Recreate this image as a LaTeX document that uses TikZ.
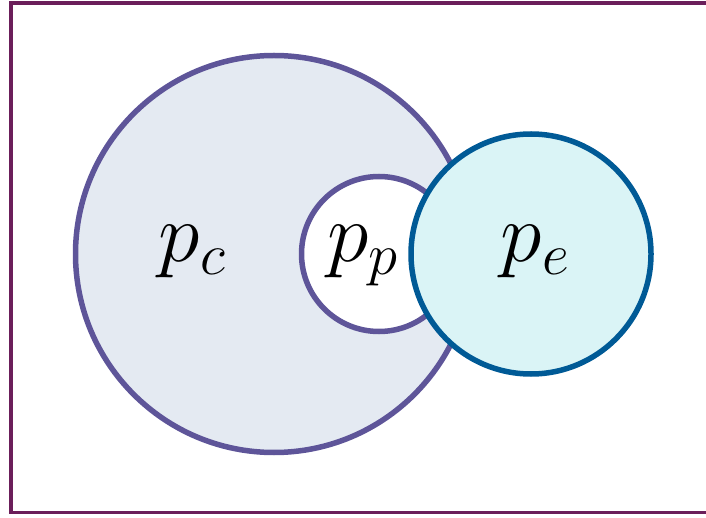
\RequirePackage{fix-cm}
\documentclass[tikz,border=0pt]{standalone}
\definecolor{framec}{RGB}{107,30,90}
\definecolor{pcstroke}{RGB}{94,85,153}
\definecolor{pcfill}{RGB}{228,234,242}
\definecolor{pestroke}{RGB}{0,90,150}
\definecolor{pefill}{RGB}{218,244,246}
\tikzset{
  frame/.style={draw=framec, line width=3.5pt},
  circc/.style={circle, draw=pcstroke, fill=pcfill, line width=5.5pt, inner sep=0pt},
  circp/.style={circle, draw=pcstroke, fill=white, line width=5.5pt, inner sep=0pt},
  circe/.style={circle, draw=pestroke, fill=pefill, line width=5.5pt, inner sep=0pt},
  lab/.style={anchor=base, inner sep=0pt, font=\fontsize{84}{92}\selectfont},
}
\begin{document}
\begin{tikzpicture}[x=1pt,y=-1pt]
\useasboundingbox (0,0) rectangle (706,518);
\draw[frame] (730,3) -- (11,3) -- (11,512.5) -- (730,512.5);
\node[circc, minimum size=397pt] (pc) at (274,254) {};
\node[circp, minimum size=155pt] (pp) at (379,254) {};
\node[circe, minimum size=240pt] (pe) at (531,254) {};
\node[lab] (lc) at (192,262) {$p_c$};
\node[lab] (lp) at (363,262) {$p_p$};
\node[lab] (le) at (535,262) {$p_e$};
\end{tikzpicture}
\end{document}
